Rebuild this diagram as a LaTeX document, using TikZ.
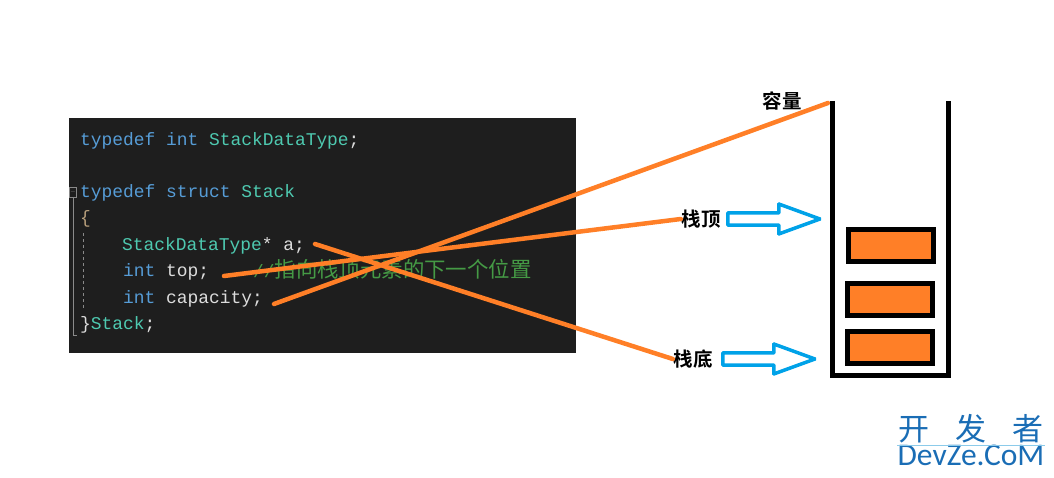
\documentclass[tikz,border=0pt]{standalone}
\usepackage{fontspec}
\setmonofont{Liberation Mono}
\newfontfamily\cjkfont{Noto Sans CJK SC}
\newfontfamily\cjkbold{Noto Sans CJK SC Bold}
\newfontfamily\markfont{Carlito}
\usetikzlibrary{positioning,shapes.arrows}
\definecolor{codebg}{HTML}{1E1E1E}
\definecolor{codekey}{HTML}{569CD6}
\definecolor{codetype}{HTML}{4EC9B0}
\definecolor{codetext}{HTML}{DCDCDC}
\definecolor{codebrace}{HTML}{B89F7C}
\definecolor{codenote}{HTML}{459A45}
\definecolor{codeguide}{HTML}{8A8A8A}
\definecolor{markorange}{HTML}{FF7F27}
\definecolor{markblue}{HTML}{00A2E8}
\definecolor{logoblue}{HTML}{1A6DB5}
\definecolor{logoline}{HTML}{8CCBEA}
\newcommand{\kw}[1]{\textcolor{codekey}{#1}}
\newcommand{\ty}[1]{\textcolor{codetype}{#1}}

\begin{document}
\begin{tikzpicture}[
  x=1pt,y=1pt,
  code/.style={font=\ttfamily\fontsize{17.9}{18}\selectfont,text=codetext,inner sep=0pt,text height=14pt,text depth=4pt,anchor=north west},
  stacklabel/.style={font=\cjkbold\fontsize{19.5}{20}\selectfont,inner sep=0.5pt},
  hollowarrow/.style={single arrow,draw=markblue,line width=3.5pt,fill=white,single arrow head extend=2.5pt,single arrow tip angle=40,single arrow head indent=0pt,minimum height=92pt,minimum width=30pt,inner sep=0pt,rounded corners=0.5pt},
  stackbox/.style={draw=black,line width=5pt,fill=markorange,minimum width=85pt,minimum height=32pt,inner sep=0pt},
  markline/.style={draw=markorange,line width=4.5pt,line cap=round},
  logotext/.style={text=logoblue,inner sep=0pt}
]
\useasboundingbox (0,0) rectangle (1054,478);
\fill[codebg] (69,125) rectangle (576,360);

\node[code] (typeline) at (80,347) {\kw{typedef int} \ty{StackDataType}\textcolor{codetext}{;}};
\node[code,below=34pt of typeline.south west,anchor=north west] (structline) {\kw{typedef struct} \ty{Stack}};
\node[code,below=8pt of structline.south west,anchor=north west] (braceline) {\textcolor{codebrace}{\{}};
\node[code,below=8pt of braceline.south west,anchor=north west,xshift=42pt] (aline) {\ty{StackDataType}* a;};
\node[code,below=8pt of aline.south west,anchor=north west,xshift=1pt] (topline) {\kw{int} top;};
\node[code,below=8pt of topline.south west,anchor=north west] (capline) {\kw{int} capacity;};
\node[code,below=8pt of capline.south west,anchor=north west,xshift=-43pt] (endline) {\}\ty{Stack};};
\node[code,right=44pt of topline.west,anchor=west,text=codenote,xshift=86pt,yshift=-1pt] (noteline) {//{\cjkfont\fontsize{21.4}{22}\selectfont 指向栈顶元素的下一个位置}};

\node[draw=codeguide,line width=0.7pt,minimum width=7pt,minimum height=10pt,inner sep=0pt,font=\fontsize{6}{6}\selectfont,text=codeguide] (foldmark) at (73,285.5) {$-$};
\coordinate (foldend) at (77,143);
\draw[codeguide,line width=0.8pt] (foldmark.south) -- (foldmark.south |- foldend) -- (foldend);
\coordinate (guidetop) at (83,245);
\coordinate (guidebottom) at (83,168);
\draw[codeguide,line width=0.7pt,dashed,dash pattern=on 3pt off 3pt] (guidetop) -- (guidebottom);

\node[stacklabel] (capacitylabel) at (782,377) {容量};
\node[stacklabel] (toplabel) at (701,259) {栈顶};
\node[stacklabel] (bottomlabel) at (693,119) {栈底};
\node[hollowarrow,right=5pt of toplabel] (toparrow) {};
\node[hollowarrow,right=8pt of bottomlabel] (bottomarrow) {};

\coordinate (astart) at (315,234);
\coordinate (topstart) at (224,202);
\coordinate (capstart) at (274,174);
\coordinate (capend) at (828,375);
\draw[markline] (astart) -- (bottomlabel.west);
\draw[markline] (topstart) -- (toplabel.west);
\draw[markline] (capstart) -- (capend);

\coordinate (wallleft) at (832.5,377);
\coordinate (wallright) at (948.5,377);
\coordinate (floorleft) at (832.5,102.5);
\coordinate (floorright) at (948.5,102.5);
\draw[black,line width=5pt,miter limit=10] (wallleft) -- (floorleft) -- (floorright) -- (wallright);

\node[stackbox] (firstbox) at (890,130.5) {};
\node[stackbox,above=11pt of firstbox] (secondbox) {};
\node[stackbox,above=17pt of secondbox,xshift=1pt] (thirdbox) {};

\node[logotext,font=\cjkfont\fontsize{31}{33}\selectfont] (logotop) at (971,49) {开\hspace{26pt}发\hspace{26pt}者};
\node[logotext,font=\markfont\fontsize{31.5}{33}\selectfont] (logobottom) at (971,22.5) {DevZe.CoM};
\draw[logoline,line width=0.8pt] (logobottom.north west) -- (logobottom.north east);
\end{tikzpicture}
\end{document}
